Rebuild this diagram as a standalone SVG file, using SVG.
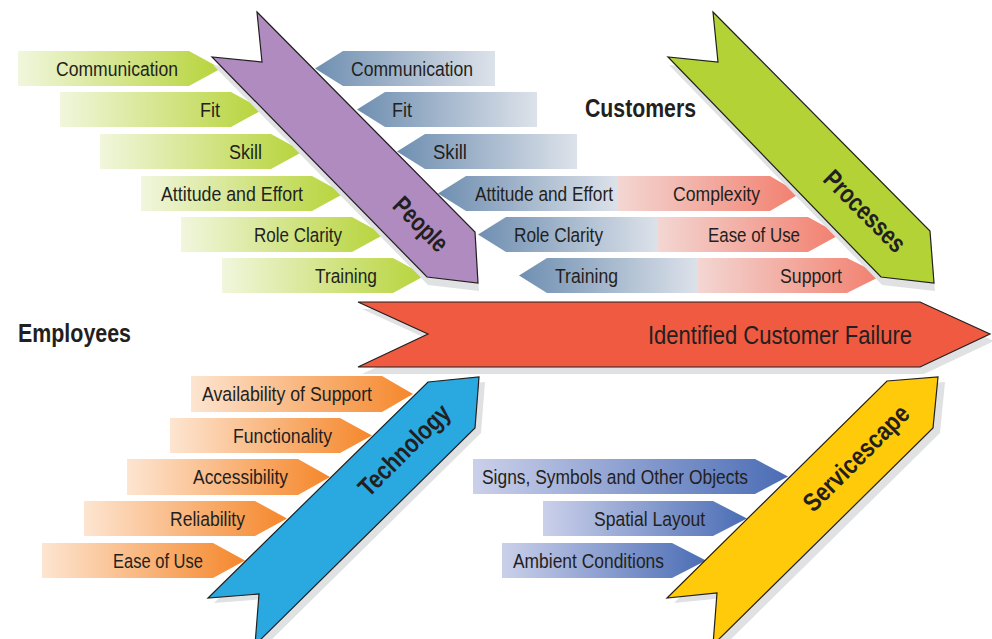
<svg xmlns="http://www.w3.org/2000/svg" width="992" height="639" viewBox="0 0 992 639">
<defs>
<linearGradient id="gGreen" x1="0" y1="0" x2="1" y2="0"><stop offset="0" stop-color="#f1f6dd"/><stop offset="1" stop-color="#b7d43a"/></linearGradient>
<linearGradient id="gSteel" x1="0" y1="0" x2="1" y2="0"><stop offset="0" stop-color="#6f8fb1"/><stop offset="1" stop-color="#dde2ea"/></linearGradient>
<linearGradient id="gRed" x1="0" y1="0" x2="1" y2="0"><stop offset="0" stop-color="#f3d6d2"/><stop offset="1" stop-color="#f27f6e"/></linearGradient>
<linearGradient id="gOrange" x1="0" y1="0" x2="1" y2="0"><stop offset="0" stop-color="#fde5d1"/><stop offset="1" stop-color="#f5872b"/></linearGradient>
<linearGradient id="gBlue" x1="0" y1="0" x2="1" y2="0"><stop offset="0" stop-color="#cbd0ea"/><stop offset="1" stop-color="#4b6db5"/></linearGradient>
</defs>
<style>
.lbl{font-family:"Liberation Sans",Arial,sans-serif;font-size:20.5px;fill:#231f20;}
.hd{font-family:"Liberation Sans",Arial,sans-serif;font-size:26px;font-weight:bold;fill:#231f20;}
.cat{font-family:"Liberation Sans",Arial,sans-serif;font-size:26px;font-weight:bold;fill:#231f20;}
.main{font-family:"Liberation Sans",Arial,sans-serif;font-size:26px;fill:#231f20;}
.arrow{stroke:#231f20;stroke-width:1.2;stroke-linejoin:miter;}
.shadow{fill:#e0e1e3;}
.e{text-anchor:end;}
.s{text-anchor:start;}
.m{text-anchor:middle;}
</style>

<!-- Employees / People side bars (green) -->
<g id="people-communication"><path d="M18,51H189L221,68.5L189,86H18Z" fill="url(#gGreen)"/><text class="lbl e" x="178" y="75.5" textLength="122" lengthAdjust="spacingAndGlyphs">Communication</text></g>
<g id="people-fit"><path d="M60,92H231L263,109.5L231,127H60Z" fill="url(#gGreen)"/><text class="lbl e" x="220" y="116.5" textLength="20" lengthAdjust="spacingAndGlyphs">Fit</text></g>
<g id="people-skill"><path d="M100,134H271L303,151.5L271,169H100Z" fill="url(#gGreen)"/><text class="lbl e" x="262" y="158.5" textLength="33" lengthAdjust="spacingAndGlyphs">Skill</text></g>
<g id="people-attitude"><path d="M141,176H312L344,193.5L312,211H141Z" fill="url(#gGreen)"/><text class="lbl e" x="303" y="200.5" textLength="142" lengthAdjust="spacingAndGlyphs">Attitude and Effort</text></g>
<g id="people-role"><path d="M181,217H352L384,234.5L352,252H181Z" fill="url(#gGreen)"/><text class="lbl e" x="342" y="241.5" textLength="88" lengthAdjust="spacingAndGlyphs">Role Clarity</text></g>
<g id="people-training"><path d="M222,258H393L425,275.5L393,293H222Z" fill="url(#gGreen)"/><text class="lbl e" x="377" y="282.5" textLength="62" lengthAdjust="spacingAndGlyphs">Training</text></g>

<!-- Customers / People side bars (steel blue) -->
<g id="cust-communication"><path d="M315,68.5L343,51H495V86H343Z" fill="url(#gSteel)"/><text class="lbl s" x="351" y="75.5" textLength="122" lengthAdjust="spacingAndGlyphs">Communication</text></g>
<g id="cust-fit"><path d="M357,109.5L385,92H537V127H385Z" fill="url(#gSteel)"/><text class="lbl s" x="392" y="116.5" textLength="20" lengthAdjust="spacingAndGlyphs">Fit</text></g>
<g id="cust-skill"><path d="M397,151.5L425,134H577V169H425Z" fill="url(#gSteel)"/><text class="lbl s" x="433" y="158.5" textLength="34" lengthAdjust="spacingAndGlyphs">Skill</text></g>
<g id="cust-attitude"><path d="M438,193.5L466,176H619V211H466Z" fill="url(#gSteel)"/><text class="lbl s" x="475" y="200.5" textLength="138" lengthAdjust="spacingAndGlyphs">Attitude and Effort</text></g>
<g id="cust-role"><path d="M478,234.5L506,217H659V252H506Z" fill="url(#gSteel)"/><text class="lbl s" x="514" y="241.5" textLength="89" lengthAdjust="spacingAndGlyphs">Role Clarity</text></g>
<g id="cust-training"><path d="M519,275.5L547,258H699V293H547Z" fill="url(#gSteel)"/><text class="lbl s" x="555" y="282.5" textLength="63" lengthAdjust="spacingAndGlyphs">Training</text></g>

<!-- Processes bars (red) -->
<g id="proc-complexity"><path d="M618,176H770L800,193.5L770,211H618Z" fill="url(#gRed)"/><text class="lbl e" x="760" y="200.5" textLength="87" lengthAdjust="spacingAndGlyphs">Complexity</text></g>
<g id="proc-ease"><path d="M658,217H808L840,234.5L808,252H658Z" fill="url(#gRed)"/><text class="lbl e" x="800" y="241.5" textLength="92" lengthAdjust="spacingAndGlyphs">Ease of Use</text></g>
<g id="proc-support"><path d="M698,258H847L882,275.5L847,293H698Z" fill="url(#gRed)"/><text class="lbl e" x="842" y="282.5" textLength="62" lengthAdjust="spacingAndGlyphs">Support</text></g>

<!-- Technology bars (orange) -->
<g id="tech-availability"><path d="M191,376H382L413,394L382,412H191Z" fill="url(#gOrange)"/><text class="lbl e" x="372" y="400.5" textLength="170" lengthAdjust="spacingAndGlyphs">Availability of Support</text></g>
<g id="tech-functionality"><path d="M170,418H340L372,435.5L340,453H170Z" fill="url(#gOrange)"/><text class="lbl e" x="332" y="442.5" textLength="99" lengthAdjust="spacingAndGlyphs">Functionality</text></g>
<g id="tech-accessibility"><path d="M127,459H298L330,477L298,495H127Z" fill="url(#gOrange)"/><text class="lbl e" x="288" y="483.5" textLength="95" lengthAdjust="spacingAndGlyphs">Accessibility</text></g>
<g id="tech-reliability"><path d="M84,501H255L287,518.5L255,536H84Z" fill="url(#gOrange)"/><text class="lbl e" x="245" y="525.5" textLength="75" lengthAdjust="spacingAndGlyphs">Reliability</text></g>
<g id="tech-ease"><path d="M42,543H213L245,560.5L213,578H42Z" fill="url(#gOrange)"/><text class="lbl e" x="203" y="567.5" textLength="90" lengthAdjust="spacingAndGlyphs">Ease of Use</text></g>

<!-- Servicescape bars (blue) -->
<g id="svc-signs"><path d="M473,459H755L788,476.5L755,494H473Z" fill="url(#gBlue)"/><text class="lbl e" x="748" y="483.5" textLength="266" lengthAdjust="spacingAndGlyphs">Signs, Symbols and Other Objects</text></g>
<g id="svc-spatial"><path d="M543,501H713L747,518.5L713,536H543Z" fill="url(#gBlue)"/><text class="lbl e" x="705" y="525.5" textLength="111" lengthAdjust="spacingAndGlyphs">Spatial Layout</text></g>
<g id="svc-ambient"><path d="M502,543H672L706,560.5L672,578H502Z" fill="url(#gBlue)"/><text class="lbl e" x="664" y="567.5" textLength="151" lengthAdjust="spacingAndGlyphs">Ambient Conditions</text></g>

<!-- Shadows -->
<g id="shadows" class="shadow">
<polygon points="257,12 475,232 478,283 427,277 212,57 262,62" transform="translate(1,8)"/>
<polygon points="713,12 930,231 934,283 881,277 668,57 718,62" transform="translate(1,8)"/>
<polygon points="358,302 920,302 990,334 920,367 358,367 428,334" transform="translate(4,7)"/>
<polygon points="428,382 479,377 475,428 255,645 259,594 208,598" transform="translate(6,5)"/>
<polygon points="887,381 938,377 933,428 713,645 717,593 667,598" transform="translate(7,5)"/>
</g>

<!-- Category arrows -->
<g id="people">
<polygon class="arrow" points="257,12 475,232 478,283 427,277 212,57 262,62" fill="#b08bc0"/>
<text class="cat m" transform="translate(421,224) rotate(45)" y="9" textLength="66" lengthAdjust="spacingAndGlyphs">People</text>
</g>
<g id="processes">
<polygon class="arrow" points="713,12 930,231 934,283 881,277 668,57 718,62" fill="#b3d235"/>
<text class="cat m" transform="translate(865,211) rotate(45)" y="9" textLength="104" lengthAdjust="spacingAndGlyphs">Processes</text>
</g>
<g id="failure">
<polygon class="arrow" points="358,302 920,302 990,334 920,367 358,367 428,334" fill="#f05a41"/>
<text class="main e" x="912" y="344" textLength="264" lengthAdjust="spacingAndGlyphs">Identified Customer Failure</text>
</g>
<g id="technology">
<polygon class="arrow" points="428,382 479,377 475,428 255,645 259,594 208,598" fill="#29a9e0"/>
<text class="cat m" transform="translate(404,450) rotate(-45)" y="9" textLength="118" lengthAdjust="spacingAndGlyphs">Technology</text>
</g>
<g id="servicescape">
<polygon class="arrow" points="887,381 938,377 933,428 713,645 717,593 667,598" fill="#ffca0a"/>
<text class="cat m" transform="translate(856,458) rotate(-45)" y="9" textLength="138" lengthAdjust="spacingAndGlyphs">Servicescape</text>
</g>

<!-- Group headings -->
<g id="employees"><text class="hd" x="18" y="342" textLength="113" lengthAdjust="spacingAndGlyphs">Employees</text></g>
<g id="customers"><text class="hd" x="585" y="117" textLength="111" lengthAdjust="spacingAndGlyphs">Customers</text></g>
</svg>
